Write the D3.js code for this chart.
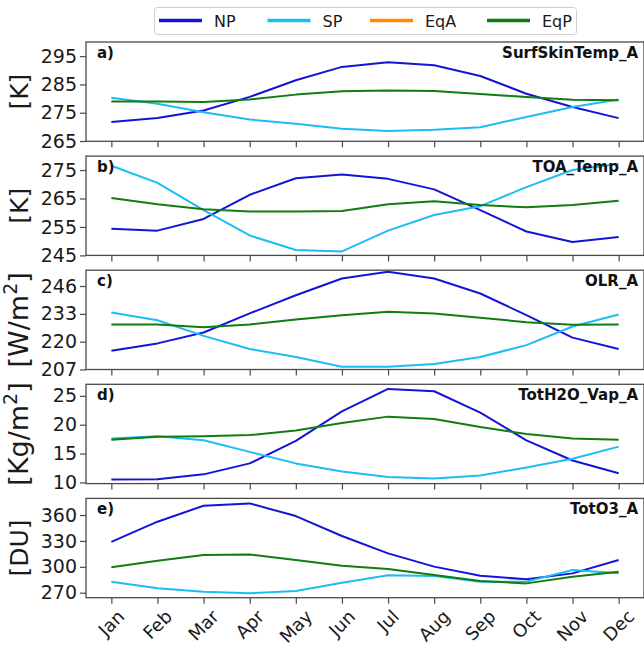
<!DOCTYPE html>
<html><head><meta charset="utf-8">
<script src="https://cdn.jsdelivr.net/npm/d3@7"></script>
<style>
body{margin:0;background:#fff}
svg{display:block;font-family:"DejaVu Sans",sans-serif}
</style>
</head><body>
<svg id="chart" width="644" height="646"></svg>
<script>
const months = ["Jan","Feb","Mar","Apr","May","Jun","Jul","Aug","Sep","Oct","Nov","Dec"];
const seriesNames = ["NP","SP","EqA","EqP"];

// a) SurfSkinTemp_A [K]
const surfNP  = [271.7,273.1,275.8,280.6,286.5,291.2,292.8,291.8,288.0,281.7,277.0,273.1];
const surfSP  = [280.3,278.2,275.2,272.6,271.1,269.3,268.5,269.0,269.9,273.5,277.0,279.7];
const surfEqA = [null,null,null,null,null,null,null,null,null,null,null,null];
const surfEqP = [279.0,279.0,278.8,279.7,281.4,282.6,282.9,282.7,281.6,280.6,279.6,279.4];
const surfTicks = [265,275,285,295];

// b) TOA_Temp_A [K]
const toaNP  = [254.4,253.7,257.8,266.3,272.1,273.4,271.9,268.2,260.9,253.4,249.7,251.5];
const toaSP  = [276.5,270.5,260.9,252.0,246.9,246.4,253.7,259.2,262.3,269.0,275.0,277.1];
const toaEqA = [null,null,null,null,null,null,null,null,null,null,null,null];
const toaEqP = [265.2,263.0,261.2,260.4,260.4,260.6,263.0,264.0,262.7,261.9,262.7,264.2];
const toaTicks = [245,255,265,275];

// c) OLR_A [W/m2]
const olrNP  = [215.8,219.2,224.3,233.2,241.7,249.5,252.7,249.5,242.5,232.4,221.9,216.6];
const olrSP  = [233.6,230.0,222.7,216.6,212.8,208.3,208.3,209.6,212.8,218.4,227.1,232.7];
const olrEqA = [null,null,null,null,null,null,null,null,null,null,null,null];
const olrEqP = [228.0,228.0,226.7,228.0,230.4,232.4,234.0,233.2,231.2,229.1,227.9,228.0];
const olrTicks = [207,220,233,246];

// d) TotH2O_Vap_A [Kg/m2]
const h2oNP  = [10.5,10.55,11.4,13.3,17.2,22.3,26.2,25.8,22.1,17.3,13.8,11.6];
const h2oSP  = [17.6,18.0,17.3,15.3,13.3,11.9,10.95,10.7,11.2,12.6,14.1,16.2];
const h2oEqA = [null,null,null,null,null,null,null,null,null,null,null,null];
const h2oEqP = [17.4,17.9,18.0,18.2,19.0,20.3,21.4,21.0,19.6,18.4,17.6,17.4];
const h2oTicks = [10,15,20,25];

// e) TotO3_A [DU]
const o3NP  = [329.0,352.3,370.8,373.5,358.8,335.7,315.6,300.2,289.7,285.5,292.4,307.9];
const o3SP  = [282.8,275.1,271.2,269.3,272.0,281.6,290.1,289.3,282.8,282.8,296.3,292.4];
const o3EqA = [null,null,null,null,null,null,null,null,null,null,null,null];
const o3EqP = [299.4,307.1,313.7,314.4,307.9,301.3,297.5,290.5,283.6,280.8,288.6,294.4];
const o3Ticks = [270,300,330,360];

const panelTags   = ["a)","b)","c)","d)","e)"];
const panelTitles = ["SurfSkinTemp_A","TOA_Temp_A","OLR_A","TotH2O_Vap_A","TotO3_A"];
const panelUnits  = [["[K]"],["[K]"],["[W/m","2","]"],["[Kg/m","2","]"],["[DU]"]];
const panelDomains = [[264.9,300],[245,279.9],[207,253.4],[9.8,27],[264.2,379.3]];

const colors = {NP:"#1414d6", SP:"#1cbdf4", EqA:"#ff8c00", EqP:"#0f7d0f"};

const panels = [
  {series:{NP:surfNP,SP:surfSP,EqA:surfEqA,EqP:surfEqP}, ticks:surfTicks},
  {series:{NP:toaNP,SP:toaSP,EqA:toaEqA,EqP:toaEqP}, ticks:toaTicks},
  {series:{NP:olrNP,SP:olrSP,EqA:olrEqA,EqP:olrEqP}, ticks:olrTicks},
  {series:{NP:h2oNP,SP:h2oSP,EqA:h2oEqA,EqP:h2oEqP}, ticks:h2oTicks},
  {series:{NP:o3NP,SP:o3SP,EqA:o3EqA,EqP:o3EqP}, ticks:o3Ticks}
];

const svg = d3.select("#chart");
const left = 86, right = 644;
const x = d3.scaleLinear().domain([-0.55, 11.55]).range([left, right]);
const firstTop = 42, pitch = 114.1, ph = 99.3;
const frameColor = "#4a4a4a";

panels.forEach((p, i) => {
  const top = firstTop + i * pitch, bottom = top + ph;
  const y = d3.scaleLinear().domain(panelDomains[i]).range([bottom, top]);
  const g = svg.append("g");

  const line = d3.line().defined(d => d != null).x((d, k) => x(k)).y(d => y(d));
  ["NP","SP","EqA","EqP"].forEach(name => {
    g.append("path").datum(p.series[name])
      .attr("d", line).attr("fill","none")
      .attr("stroke", colors[name]).attr("stroke-width", 2)
      .attr("stroke-linejoin","round");
  });

  const ya = g.append("g").attr("transform", `translate(${left},0)`)
    .call(d3.axisLeft(y).tickValues(p.ticks).tickSize(6).tickPadding(3).tickFormat(d3.format("d")));
  ya.select(".domain").remove();
  ya.selectAll(".tick line").attr("stroke", frameColor).attr("stroke-width", 1.2);
  ya.selectAll(".tick text").attr("font-size", 19).attr("fill", "#1a1a1a")
    .attr("font-family", '"DejaVu Sans",sans-serif');

  const xa = g.append("g").attr("transform", `translate(0,${bottom})`)
    .call(d3.axisBottom(x).tickValues(d3.range(12)).tickSize(6).tickFormat(""));
  xa.select(".domain").remove();
  xa.selectAll(".tick line").attr("stroke", frameColor).attr("stroke-width", 1.2);

  g.append("rect").attr("x", left).attr("y", top).attr("width", right - left).attr("height", ph)
    .attr("fill","none").attr("stroke", frameColor).attr("stroke-width", 1.3);

  g.append("text").attr("x", left + 11).attr("y", top + 16)
    .attr("font-size", 15).attr("font-weight","bold").attr("fill","#111").text(panelTags[i]);
  g.append("text").attr("x", 638).attr("y", top + 16).attr("text-anchor","end")
    .attr("font-size", 15).attr("font-weight","bold").attr("fill","#111").text(panelTitles[i]);

  const u = panelUnits[i];
  const lab = g.append("text")
    .attr("transform", `translate(28,${(top + bottom) / 2}) rotate(-90)`)
    .attr("text-anchor","middle").attr("fill","#1a1a1a");
  if (u.length === 1) {
    lab.attr("font-size", 25).text(u[0]);
  } else {
    lab.attr("font-size", 27);
    lab.append("tspan").text(u[0]);
    lab.append("tspan").attr("dy", -11).attr("font-size", 19).text(u[1]);
    lab.append("tspan").attr("dy", 11).text(u[2]);
  }

  if (i === panels.length - 1) {
    months.forEach((m, k) => {
      const t = svg.append("text").attr("font-size", 18).attr("fill","#1a1a1a")
        .attr("text-anchor","middle").attr("dy","0.35em").text(m);
      const w = t.node().getComputedTextLength();
      const h = 13;
      const cx = x(k), cy = bottom + 11 + (w + h) / (2 * Math.SQRT2);
      t.attr("transform", `translate(${cx},${cy}) rotate(-45)`);
    });
  }
});

const lg = svg.append("g");
lg.append("rect").attr("x", 154.5).attr("y", 7.5).attr("width", 422).attr("height", 27)
  .attr("rx", 3).attr("fill","#fff").attr("stroke","#cfcfcf").attr("stroke-width",1);
const legX = [159, 267.5, 370, 487];
seriesNames.forEach((name, k) => {
  lg.append("line").attr("x1", legX[k]).attr("x2", legX[k] + 43).attr("y1", 20.5).attr("y2", 20.5)
    .attr("stroke", colors[name]).attr("stroke-width", 3.5);
  lg.append("text").attr("x", legX[k] + 55).attr("y", 26.5).attr("font-size", 16)
    .attr("fill","#1a1a1a").text(name);
});
</script>
</body></html>
